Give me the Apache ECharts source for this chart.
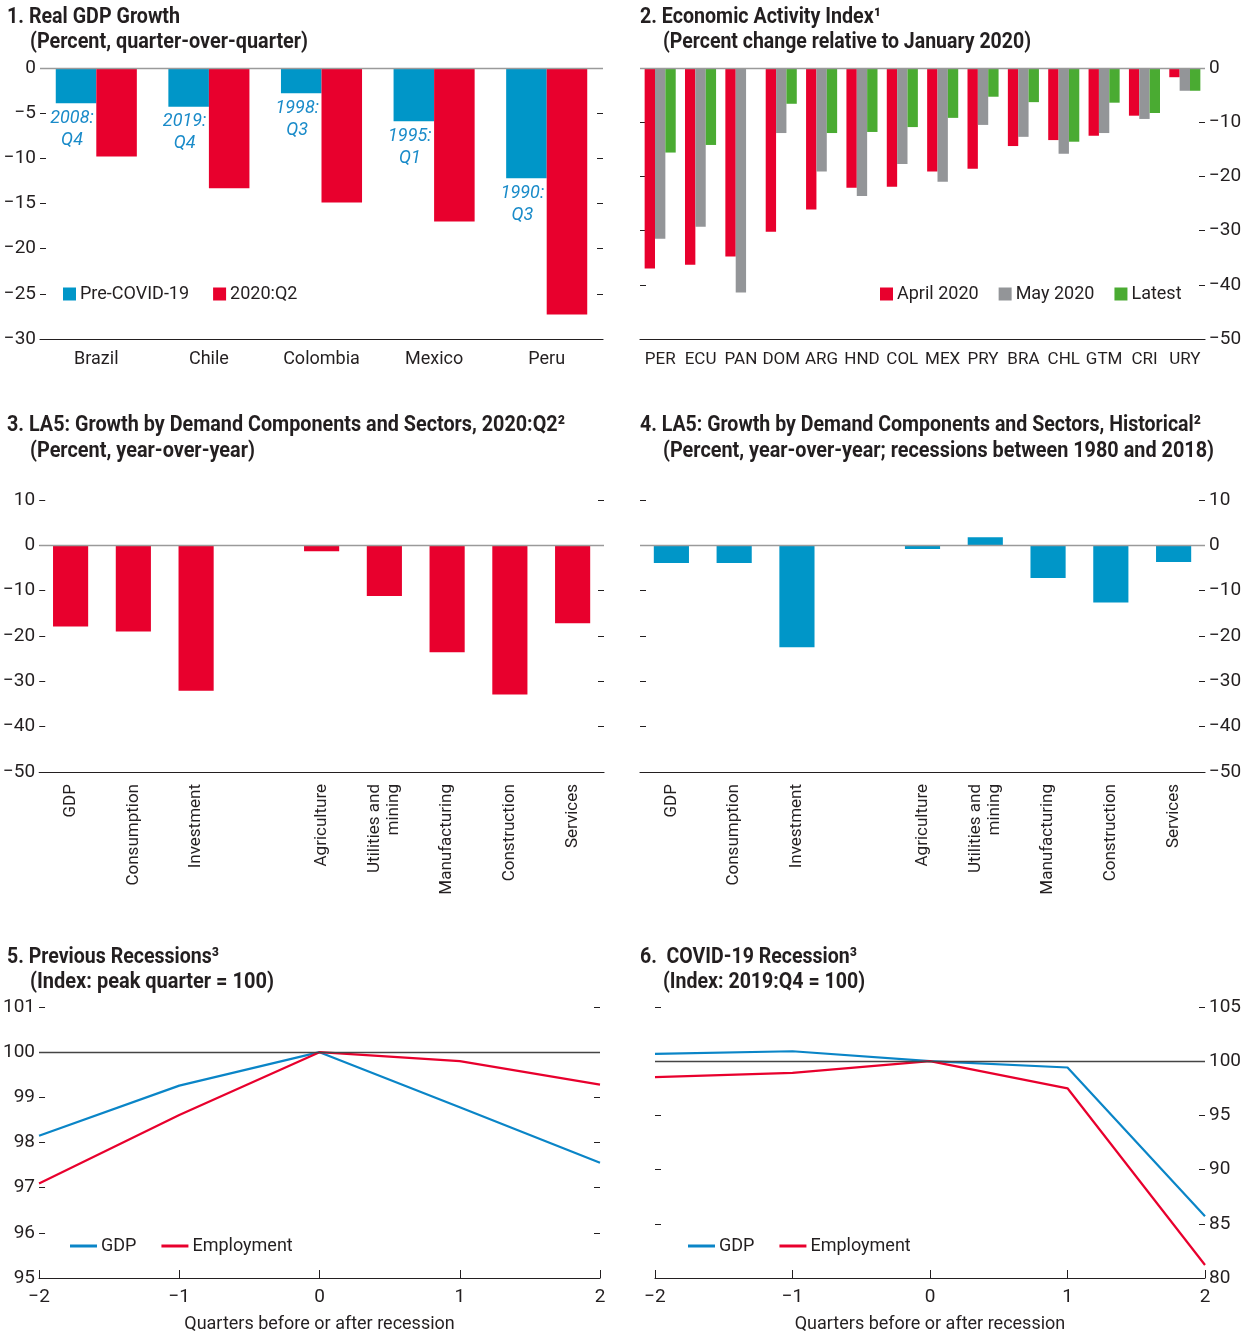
<!DOCTYPE html>
<html>
<head>
<meta charset="utf-8">
<script src="https://cdn.jsdelivr.net/npm/echarts@6/dist/echarts.min.js"></script>
<style>
html, body { margin: 0; padding: 0; background: #fff; }
#main { width: 1249px; height: 1336px; }
</style>
</head>
<body>
<div id="main"></div>
<script>
// panel 1: real GDP growth
var gdpCountries = ['Brazil', 'Chile', 'Colombia', 'Mexico', 'Peru'];
var preCovid = [-3.9, -4.3, -2.8, -5.9, -12.2];
var q2_2020 = [-9.8, -13.3, -14.9, -17.0, -27.3];
var preCovidDates = ['2008:\nQ4', '2019:\nQ4', '1998:\nQ3', '1995:\nQ1', '1990:\nQ3'];

// panel 2: economic activity index
var activityCountries = ['PER', 'ECU', 'PAN', 'DOM', 'ARG', 'HND', 'COL', 'MEX', 'PRY', 'BRA', 'CHL', 'GTM', 'CRI', 'URY'];
var april2020 = [-37.0, -36.3, -34.8, -30.2, -26.1, -22.1, -21.9, -19.1, -18.6, -14.4, -13.3, -12.5, -8.8, -1.7];
var may2020 = [-31.5, -29.3, -41.4, -12.0, -19.1, -23.6, -17.7, -21.0, -10.5, -12.7, -15.8, -12.0, -9.4, -4.2];
var latest = [-15.6, -14.2, null, -6.6, -12.0, -11.8, -10.9, -9.2, -5.3, -6.3, -13.6, -6.4, -8.3, -4.2];

// panels 3 and 4: demand components and sectors
var sectors = ['GDP', 'Consumption', 'Investment', '', 'Agriculture', 'Utilities and\nmining', 'Manufacturing', 'Construction', 'Services'];
var sectors2020 = [-17.9, -19.0, -32.1, null, -1.3, -11.2, -23.6, -32.9, -17.2];
var sectorsHist = [-3.9, -3.9, -22.5, null, -0.8, 1.8, -7.2, -12.6, -3.7];

// panels 5 and 6: recessions
var quarters = [-2, -1, 0, 1, 2];
var prevGdp = [98.15, 99.26, 100, 98.78, 97.55];
var prevEmp = [97.09, 98.61, 100, 99.8, 99.28];
var covidGdp = [100.67, 100.92, 100, 99.42, 85.7];
var covidEmp = [98.53, 98.93, 100, 97.5, 81.2];

var FONT = 'Roboto, "Liberation Sans", sans-serif';
var INK = '#231f20';
var RED = '#e8002d';
var BLUE = '#0096c8';
var GRAY = '#939598';
var GREEN = '#4aab32';
var LBLUE = '#0a85c7';

function minus(v) { return String(v).replace('-', '\u2212'); }

function pairs(xs, ys) { return xs.map(function (x, i) { return [x, ys[i]]; }); }

function catAxis(grid, data, size, rotate) {
    return {
        type: 'category', gridIndex: grid, data: data, position: 'bottom',
        axisLine: { onZero: false, lineStyle: { color: INK, width: 1.2 } },
        axisTick: { inside: true, length: 8, interval: 0, lineStyle: { color: INK } },
        axisLabel: { interval: 0, color: INK, fontSize: size, fontFamily: FONT, margin: rotate ? 12 : 11, rotate: rotate || 0, lineHeight: 19 }
    };
}

function numXAxis(grid) {
    return {
        type: 'value', gridIndex: grid, min: -2, max: 2, interval: 1, position: 'bottom',
        splitLine: { show: false },
        axisLine: { onZero: false, lineStyle: { color: INK, width: 1.2 } },
        axisTick: { inside: true, length: 8, lineStyle: { color: INK } },
        axisLabel: { color: INK, fontSize: 19, fontFamily: FONT, margin: 10, formatter: minus },
        name: 'Quarters before or after recession', nameLocation: 'middle', nameGap: 37,
        nameTextStyle: { color: INK, fontSize: 18, fontFamily: FONT }
    };
}

function valAxis(grid, min, max, interval, pos, labels) {
    return {
        type: 'value', gridIndex: grid, min: min, max: max, interval: interval, position: pos,
        splitLine: { show: false },
        axisLine: { show: false, onZero: false },
        axisTick: { show: true, inside: true, length: 6, lineStyle: { color: INK } },
        axisLabel: { show: labels, color: INK, fontSize: 19, fontFamily: FONT, margin: 4, formatter: minus }
    };
}

function refLine(value, color) {
    return {
        silent: true, symbol: 'none', label: { show: false },
        lineStyle: { color: color, width: 1.3, type: 'solid' },
        data: [{ yAxis: value }]
    };
}

function legendBox(names, left, top, line, gap) {
    return {
        data: names, left: left, top: top, orient: 'horizontal',
        icon: 'rect', itemWidth: line ? 27 : 13, itemHeight: line ? 3 : 13, itemGap: gap,
        padding: 0, selectedMode: false,
        textStyle: { color: INK, fontSize: 18, fontFamily: FONT, padding: [0, 0, 0, -1] }
    };
}

// headings: bold text squeezed to the width of the condensed original
var measure = document.createElement('canvas').getContext('2d');
var HEAD_FONT = 'bold 22px ' + FONT;
function heading(text, left, midY, width) {
    measure.font = HEAD_FONT;
    var sx = width / measure.measureText(text).width;
    return {
        type: 'text', x: left, y: midY, scaleX: sx, silent: true,
        style: { text: text, font: HEAD_FONT, fill: INK, verticalAlign: 'middle', align: 'left' }
    };
}

var myChart = echarts.init(document.getElementById('main'));

var option = {
    backgroundColor: '#fff',
    animation: false,
    textStyle: { fontFamily: FONT },
    graphic: [
        heading('1. Real GDP Growth', 7, 17, 173),
        heading('(Percent, quarter-over-quarter)', 30, 42, 278),
        heading('2. Economic Activity Index\u00b9', 640, 17, 241),
        heading('(Percent change relative to January 2020)', 663, 42, 368),
        heading('3. LA5: Growth by Demand Components and Sectors, 2020:Q2\u00b2', 7, 425, 558),
        heading('(Percent, year-over-year)', 30, 451, 225),
        heading('4. LA5: Growth by Demand Components and Sectors, Historical\u00b2', 640, 425, 561),
        heading('(Percent, year-over-year; recessions between 1980 and 2018)', 663, 451, 551),
        heading('5. Previous Recessions\u00b3', 7, 957, 212),
        heading('(Index: peak quarter = 100)', 30, 982, 244),
        heading('6.  COVID-19 Recession\u00b3', 640, 957, 217),
        heading('(Index: 2019:Q4 = 100)', 663, 982, 202)
    ],
    legend: [
        legendBox(['Pre-COVID-19', '2020:Q2'], 63, 285, false, 24),
        legendBox(['April 2020', 'May 2020', 'Latest'], 880, 285, false, 20),
        legendBox(['GDP', 'Employment'], 70, 1237, true, 25),
        legendBox(['GDP', 'Employment'], 688, 1237, true, 25)
    ],
    grid: [
        { left: 40, top: 68, width: 563, height: 271 },
        { left: 640, top: 68, width: 565, height: 271 },
        { left: 38, top: 500, width: 566, height: 272 },
        { left: 640, top: 500, width: 565, height: 272 },
        { left: 37, top: 1007, width: 563, height: 271 },
        { left: 655, top: 1007, width: 550, height: 271 }
    ],
    xAxis: [
        catAxis(0, gdpCountries, 18),
        catAxis(1, activityCountries, 17),
        catAxis(2, sectors, 17, 90),
        catAxis(3, sectors, 17, 90),
        numXAxis(4),
        numXAxis(5)
    ],
    yAxis: [
        valAxis(0, -30, 0, 5, 'left', true),
        valAxis(0, -30, 0, 5, 'right', false),
        valAxis(1, -50, 0, 10, 'right', true),
        valAxis(1, -50, 0, 10, 'left', false),
        valAxis(2, -50, 10, 10, 'left', true),
        valAxis(2, -50, 10, 10, 'right', false),
        valAxis(3, -50, 10, 10, 'right', true),
        valAxis(3, -50, 10, 10, 'left', false),
        valAxis(4, 95, 101, 1, 'left', true),
        valAxis(4, 95, 101, 1, 'right', false),
        valAxis(5, 80, 105, 5, 'right', true),
        valAxis(5, 80, 105, 5, 'left', false)
    ],
    series: [
        {
            name: 'Pre-COVID-19', type: 'bar', xAxisIndex: 0, yAxisIndex: 0,
            data: preCovid, itemStyle: { color: BLUE }, barGap: '0%', barCategoryGap: '28%',
            label: {
                show: true, position: 'bottom', distance: 4, offset: [-4, 0],
                color: '#1a8bc9', fontStyle: 'italic', fontSize: 18, lineHeight: 22, fontFamily: FONT,
                formatter: function (p) { return preCovidDates[p.dataIndex]; }
            },
            markLine: refLine(0, '#9a9a9a')
        },
        {
            name: '2020:Q2', type: 'bar', xAxisIndex: 0, yAxisIndex: 0,
            data: q2_2020, itemStyle: { color: RED }, barGap: '0%', barCategoryGap: '28%'
        },
        {
            name: 'April 2020', type: 'bar', xAxisIndex: 1, yAxisIndex: 2,
            data: april2020, itemStyle: { color: RED }, barGap: '0%', barCategoryGap: '23%',
            markLine: refLine(0, '#9a9a9a')
        },
        {
            name: 'May 2020', type: 'bar', xAxisIndex: 1, yAxisIndex: 2,
            data: may2020, itemStyle: { color: GRAY }, barGap: '0%', barCategoryGap: '23%'
        },
        {
            name: 'Latest', type: 'bar', xAxisIndex: 1, yAxisIndex: 2,
            data: latest, itemStyle: { color: GREEN }, barGap: '0%', barCategoryGap: '23%'
        },
        {
            name: 'LA5 2020:Q2', type: 'bar', xAxisIndex: 2, yAxisIndex: 4,
            data: sectors2020, itemStyle: { color: RED }, barCategoryGap: '44%',
            markLine: refLine(0, '#9a9a9a')
        },
        {
            name: 'LA5 historical', type: 'bar', xAxisIndex: 3, yAxisIndex: 6,
            data: sectorsHist, itemStyle: { color: BLUE }, barCategoryGap: '44%',
            markLine: refLine(0, '#9a9a9a')
        },
        {
            name: 'GDP', type: 'line', xAxisIndex: 4, yAxisIndex: 8,
            data: pairs(quarters, prevGdp), symbol: 'none', itemStyle: { color: LBLUE },
            lineStyle: { color: LBLUE, width: 2.2 },
            markLine: refLine(100, '#444')
        },
        {
            name: 'Employment', type: 'line', xAxisIndex: 4, yAxisIndex: 8,
            data: pairs(quarters, prevEmp), symbol: 'none', itemStyle: { color: RED },
            lineStyle: { color: RED, width: 2.2 }
        },
        {
            name: 'GDP', type: 'line', xAxisIndex: 5, yAxisIndex: 10,
            data: pairs(quarters, covidGdp), symbol: 'none', itemStyle: { color: LBLUE },
            lineStyle: { color: LBLUE, width: 2.2 },
            markLine: refLine(100, '#444')
        },
        {
            name: 'Employment', type: 'line', xAxisIndex: 5, yAxisIndex: 10,
            data: pairs(quarters, covidEmp), symbol: 'none', itemStyle: { color: RED },
            lineStyle: { color: RED, width: 2.2 }
        }
    ]
};

myChart.setOption(option);
</script>
</body>
</html>
